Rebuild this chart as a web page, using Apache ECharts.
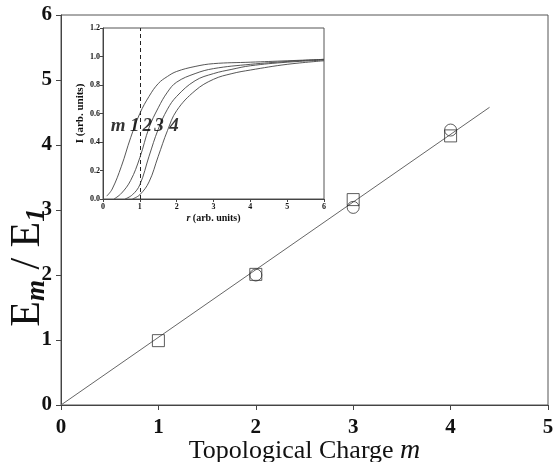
<!DOCTYPE html>
<html><head><meta charset="utf-8">
<script src="https://cdn.jsdelivr.net/npm/echarts@6/dist/echarts.min.js"></script>
<style>html,body{margin:0;padding:0;background:#fff}#c{width:555px;height:462px}</style>
</head><body><div id="c"></div>
<script>
// main panel data
const charges = [1, 2, 3, 4];
const squareVals = [[1, 0.99], [2, 2.01], [3, 3.16], [4, 4.14]];
const circleVals = [[2, 2.0], [3, 3.04], [4, 4.23]];
const fitLine = [[0, 0], [4.4, 4.58]];
const mainXTicks = [0, 1, 2, 3, 4, 5];
const mainYTicks = [0, 1, 2, 3, 4, 5, 6];
// inset data: intensity profiles I(r) for m = 1..4
const curveM1 = [[0.1,0.02],[0.25,0.07],[0.5,0.23],[0.75,0.43],[1,0.6],[1.25,0.72],[1.5,0.81],[1.75,0.86],[2,0.895],[2.5,0.93],[3,0.95],[4,0.96],[5,0.97],[6,0.98]];
const curveM2 = [[0.3,0.0],[0.5,0.04],[0.75,0.13],[1,0.29],[1.25,0.5],[1.5,0.64],[1.75,0.75],[2,0.82],[2.5,0.88],[3,0.915],[4,0.945],[5,0.965],[6,0.98]];
const curveM3 = [[0.6,0.0],[0.8,0.03],[1,0.1],[1.25,0.3],[1.5,0.49],[1.75,0.63],[2,0.72],[2.5,0.83],[3,0.88],[3.5,0.91],[4,0.935],[5,0.96],[6,0.975]];
const curveM4 = [[0.8,0.0],[1,0.03],[1.25,0.12],[1.5,0.3],[1.75,0.48],[2,0.62],[2.5,0.76],[3,0.84],[3.5,0.88],[4,0.905],[5,0.945],[6,0.97]];
const insetLabels = [['m', 0.41, 0.51], ['1', 0.86, 0.51], ['2', 1.2, 0.51], ['3', 1.52, 0.51], ['4', 1.93, 0.51]];
const markerR = 1;

const serif = 'Liberation Serif';
const ink = '#111';
const chart = echarts.init(document.getElementById('c'));
const curveStyle = {type: 'line', xAxisIndex: 1, yAxisIndex: 1, smooth: 0.4, symbol: 'none',
  lineStyle: {color: '#444', width: 0.9}, silent: true, z: 5};
chart.setOption({
  animation: false,
  backgroundColor: '#fff',
  grid: [
    {left: 61, right: 7, top: 15, bottom: 57, outerBoundsMode: 'none', containLabel: false, show: true, borderColor: '#555', borderWidth: 1, backgroundColor: 'transparent'},
    {left: 103, top: 28, width: 221, height: 171, outerBoundsMode: 'none', containLabel: false, show: true, borderColor: '#555', borderWidth: 1, backgroundColor: '#fff', z: 3}
  ],
  xAxis: [
    {type: 'value', gridIndex: 0, min: 0, max: 5, interval: 1, nameMoveOverlap: false,
     axisLine: {show: true, lineStyle: {color: '#444'}}, axisTick: {show: true, length: 5, lineStyle: {color: '#444'}},
     splitLine: {show: false},
     axisLabel: {fontFamily: serif, fontWeight: 'bold', fontSize: 21, color: ink, margin: 12},
     name: '{n|Topological Charge }{i|m}', nameLocation: 'middle', nameGap: 32,
     nameTextStyle: {rich: {n: {fontFamily: serif, fontSize: 26, color: ink}, i: {fontFamily: serif, fontStyle: 'italic', fontSize: 28, color: ink}}}},
    {type: 'value', gridIndex: 1, min: 0, max: 6, interval: 1, z: 6, nameMoveOverlap: false,
     axisLine: {show: true, lineStyle: {color: '#444'}}, axisTick: {show: true, length: 3, lineStyle: {color: '#444'}},
     splitLine: {show: false},
     axisLabel: {fontFamily: serif, fontWeight: 'bold', fontSize: 8, color: ink, margin: 4},
     name: '{i|r}{n| (arb. units)}', nameLocation: 'middle', nameGap: 14,
     nameTextStyle: {rich: {n: {fontFamily: serif, fontWeight: 'bold', fontSize: 10, color: ink}, i: {fontFamily: serif, fontWeight: 'bold', fontStyle: 'italic', fontSize: 10, color: ink}}}}
  ],
  yAxis: [
    {type: 'value', gridIndex: 0, min: 0, max: 6, interval: 1, nameMoveOverlap: false,
     axisLine: {show: true, lineStyle: {color: '#444'}}, axisTick: {show: true, length: 5, lineStyle: {color: '#444'}},
     splitLine: {show: false},
     axisLabel: {fontFamily: serif, fontWeight: 'bold', fontSize: 21, color: ink, margin: 9},
     name: '{e|E}{s|m}{e| / E}{s|1}', nameLocation: 'middle', nameGap: 10, nameRotate: 90,
     nameTextStyle: {padding: [0, 115, 0, 0], rich: {e: {fontFamily: serif, fontSize: 42, color: ink}, s: {fontFamily: serif, fontStyle: 'italic', fontWeight: 'bold', fontSize: 27, color: ink, verticalAlign: 'bottom', padding: [20, 0, 0, 0]}}}},
    {type: 'value', gridIndex: 1, min: 0, max: 1.2, interval: 0.2, z: 6, nameMoveOverlap: false,
     axisLine: {show: true, lineStyle: {color: '#444'}}, axisTick: {show: true, length: 3, lineStyle: {color: '#444'}},
     splitLine: {show: false},
     axisLabel: {fontFamily: serif, fontWeight: 'bold', fontSize: 8, color: ink, margin: 3, formatter: v => v.toFixed(1)},
     name: 'I (arb. units)', nameLocation: 'middle', nameGap: 17, nameRotate: 90,
     nameTextStyle: {fontFamily: serif, fontWeight: 'bold', fontSize: 11, color: ink}}
  ],
  series: [
    {type: 'line', xAxisIndex: 0, yAxisIndex: 0, data: fitLine, symbol: 'none',
     lineStyle: {color: '#666', width: 1}, silent: true, z: 2},
    {type: 'scatter', xAxisIndex: 0, yAxisIndex: 0, data: squareVals, symbol: 'rect', symbolSize: 12,
     itemStyle: {color: 'transparent', borderColor: '#333', borderWidth: 1}, z: 4},
    {type: 'scatter', xAxisIndex: 0, yAxisIndex: 0, data: circleVals, symbol: 'circle', symbolSize: 12,
     itemStyle: {color: 'transparent', borderColor: '#333', borderWidth: 1}, z: 4},
    Object.assign({}, curveStyle, {data: curveM1,
      markLine: {silent: true, symbol: 'none', label: {show: false},
        lineStyle: {type: [4, 3], color: '#222', width: 1}, data: [{xAxis: markerR}]}}),
    Object.assign({}, curveStyle, {data: curveM2}),
    Object.assign({}, curveStyle, {data: curveM3}),
    Object.assign({}, curveStyle, {data: curveM4}),
    {type: 'scatter', xAxisIndex: 1, yAxisIndex: 1, symbolSize: 0, z: 7, silent: true,
     data: insetLabels.map(d => ({name: d[0], value: [d[1], d[2]]})),
     label: {show: true, position: 'inside', formatter: p => p.name, fontFamily: serif, fontWeight: 'bold', fontStyle: 'italic', fontSize: 19, color: '#000'}}
  ]
});
</script></body></html>
